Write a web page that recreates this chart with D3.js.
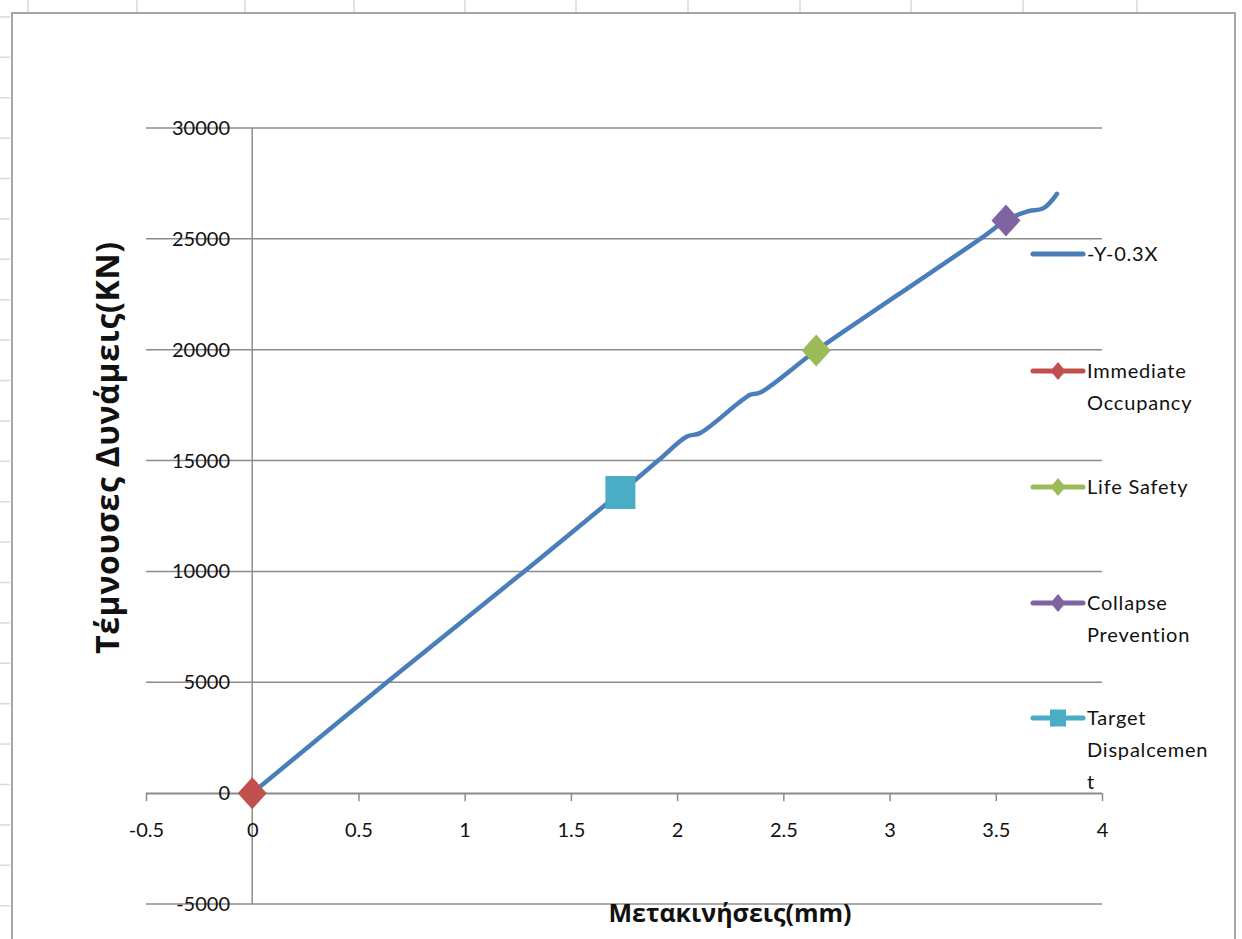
<!DOCTYPE html>
<html>
<head>
<meta charset="utf-8">
<script src="https://cdn.jsdelivr.net/npm/d3@7"></script>
<style>
  html, body { margin: 0; padding: 0; background: #fff; }
  svg { display: block; }
</style>
</head>
<body>
<svg id="chart" width="1242" height="939"></svg>
<script>
// Pushover curve: displacement (mm) vs base shear (kN)
const curveX = [0, 0.634, 1.28, 1.733, 1.911, 2.046, 2.108, 2.344, 2.391, 2.655, 3.04, 3.427, 3.548, 3.646, 3.725, 3.788];
const curveY = [0, 5000, 10000, 13560, 15000, 16085, 16238, 17966, 18069, 19963, 22480, 25000, 25827, 26232, 26386, 27031];

// Performance levels
const pointNames = ["Immediate Occupancy", "Life Safety", "Collapse Prevention", "Target Dispalcement"];
const pointX = [0, 2.655, 3.548, 1.733];
const pointY = [0, 19963, 25827, 13560];

// Axis ticks
const xTicks = [-0.5, 0, 0.5, 1, 1.5, 2, 2.5, 3, 3.5, 4];
const yTicks = [-5000, 0, 5000, 10000, 15000, 20000, 25000, 30000];

// Legend entries (wrapped lines)
const legendLabels = [["-Y-0.3X"], ["Immediate", "Occupancy"], ["Life Safety"], ["Collapse", "Prevention"], ["Target", "Dispalcemen", "t"]];

const xTitle = "Μετακινήσεις(mm)";
const yTitle = "Τέμνουσες Δυνάμεις(KN)";

const colors = {
  line: "#4A7EBB",
  io: "#C0504D",
  ls: "#9BBB59",
  cp: "#8064A2",
  td: "#4BACC6",
  grid: "#8c8c8c",
  text: "#111"
};
const pointColors = [colors.io, colors.ls, colors.cp, colors.td];
const pointShapes = ["diamond", "diamond", "diamond", "square"];
const legendColors = [colors.line, colors.io, colors.ls, colors.cp, colors.td];
const legendShapes = [null, "diamond", "diamond", "diamond", "square"];

const svg = d3.select("#chart");

// Worksheet cell ticks around the chart object
const sheet = svg.append("g").attr("stroke", "#d9d9d9").attr("stroke-width", 1.5);
const colEdges = [28, 137, 245, 354, 465, 576, 688, 800, 911, 1023, 1137];
sheet.selectAll("line.col").data(colEdges).join("line")
  .attr("x1", d => d).attr("x2", d => d).attr("y1", 0).attr("y2", 12);
sheet.selectAll("line.row").data(d3.range(0, 24)).join("line")
  .attr("x1", 0).attr("x2", 10)
  .attr("y1", k => 16.9 + 40.4 * k).attr("y2", k => 16.9 + 40.4 * k);

// Chart frame
svg.append("rect")
  .attr("x", 12).attr("y", 13).attr("width", 1223).attr("height", 960)
  .attr("fill", "#fff").attr("stroke", "#a6a6a6").attr("stroke-width", 2);

const x = d3.scaleLinear().domain([-0.5, 4]).range([146, 1102]);
const y = d3.scaleLinear().domain([-5000, 30000]).range([904, 128]);

const tickFont = "Lato, 'Noto Sans', sans-serif";

// Horizontal gridlines
svg.append("g")
  .selectAll("line").data(yTicks).join("line")
  .attr("x1", x(-0.5)).attr("x2", x(4))
  .attr("y1", d => y(d)).attr("y2", d => y(d))
  .attr("stroke", colors.grid).attr("stroke-width", 1.5);

// Vertical axis at x = 0
svg.append("line")
  .attr("x1", x(0)).attr("x2", x(0))
  .attr("y1", y(30000)).attr("y2", y(-5000))
  .attr("stroke", colors.grid).attr("stroke-width", 1.5);

// Horizontal axis at y = 0
const xAxis = d3.axisBottom(x).tickValues(xTicks).tickSize(8).tickSizeOuter(0)
  .tickFormat(d => String(d));
const gx = svg.append("g").attr("transform", `translate(0,${y(0)})`).call(xAxis);
gx.select(".domain").attr("stroke", colors.grid).attr("stroke-width", 1.5);
gx.selectAll(".tick line").attr("stroke", colors.grid).attr("stroke-width", 1.5);
gx.selectAll(".tick text")
  .attr("y", 37).attr("dy", "0.35em")
  .attr("font-family", tickFont).attr("font-size", 20).attr("fill", colors.text);

// Vertical tick labels
svg.append("g")
  .selectAll("text").data(yTicks).join("text")
  .attr("x", 230).attr("y", d => y(d)).attr("dy", "0.35em")
  .attr("text-anchor", "end")
  .attr("font-family", tickFont).attr("font-size", 20).attr("fill", colors.text)
  .text(d => String(d));

// Pushover curve
const line = d3.line()
  .x((d, i) => x(curveX[i]))
  .y(d => y(d))
  .curve(d3.curveCatmullRom.alpha(0.5));
svg.append("path")
  .datum(curveY)
  .attr("d", line)
  .attr("fill", "none")
  .attr("stroke", colors.line)
  .attr("stroke-width", 4.5)
  .attr("stroke-linecap", "round")
  .attr("stroke-linejoin", "round");

function markerPath(shape, w, h) {
  if (shape === "square") {
    return `M${-w / 2},${-h / 2}H${w / 2}V${h / 2}H${-w / 2}Z`;
  }
  return `M0,${-h / 2}L${w / 2},0L0,${h / 2}L${-w / 2},0Z`;
}

// Performance point markers
svg.append("g")
  .selectAll("path").data(pointNames).join("path")
  .attr("transform", (d, i) => `translate(${x(pointX[i])},${y(pointY[i])})`)
  .attr("d", (d, i) => pointShapes[i] === "square" ? markerPath("square", 30, 33) : markerPath("diamond", 29, 32))
  .attr("fill", (d, i) => pointColors[i]);

// Legend
const legendRowY = [254, 371, 487, 603, 718];
const lg = svg.append("g");
const items = lg.selectAll("g").data(legendLabels).join("g")
  .attr("transform", (d, i) => `translate(1033,${legendRowY[i]})`);
items.append("line")
  .attr("x1", 0).attr("x2", 50).attr("y1", 0).attr("y2", 0)
  .attr("stroke", (d, i) => legendColors[i]).attr("stroke-width", 5)
  .attr("stroke-linecap", "round");
items.filter((d, i) => legendShapes[i] !== null).append("path")
  .attr("transform", "translate(25,0)")
  .attr("d", (d, i) => legendShapes[i + 1] === "square" ? markerPath("square", 16, 17) : markerPath("diamond", 15, 18))
  .attr("fill", (d, i) => legendColors[i + 1]);
items.each(function (lines) {
  const t = d3.select(this).append("text")
    .attr("x", 54).attr("y", 0)
    .attr("font-family", tickFont).attr("font-size", 20)
    .attr("letter-spacing", 0.8).attr("fill", colors.text);
  lines.forEach((s, j) => {
    t.append("tspan").attr("x", 54).attr("y", j * 32).attr("dy", "0.35em").text(s);
  });
});

// Axis titles
svg.append("text")
  .attr("x", 730).attr("y", 913).attr("dy", "0.35em")
  .attr("text-anchor", "middle")
  .attr("font-family", "'Open Sans', 'Noto Sans', sans-serif")
  .attr("font-weight", "bold").attr("font-size", 25).attr("fill", colors.text)
  .text(xTitle);

svg.append("text")
  .attr("transform", "translate(108,448) rotate(-90)")
  .attr("dy", "0.35em")
  .attr("text-anchor", "middle")
  .attr("font-family", "'Open Sans', 'Noto Sans', sans-serif")
  .attr("font-weight", "bold").attr("font-size", 32)
  .attr("textLength", 412).attr("lengthAdjust", "spacing")
  .attr("fill", colors.text)
  .text(yTitle);
</script>
</body>
</html>
